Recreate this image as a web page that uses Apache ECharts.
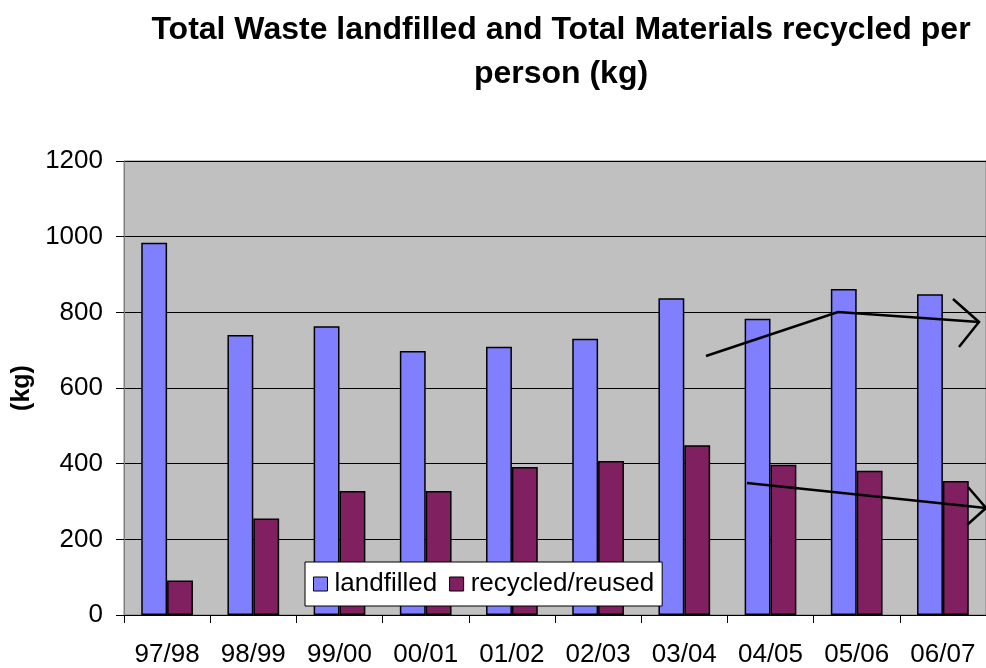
<!DOCTYPE html>
<html>
<head>
<meta charset="utf-8">
<script src="https://cdn.jsdelivr.net/npm/echarts@6/dist/echarts.min.js"></script>
<style>
html, body { margin: 0; padding: 0; background: #fff; }
#main { width: 986px; height: 668px; }
</style>
</head>
<body>
<div id="main"></div>
<script>
var years = ['97/98', '98/99', '99/00', '00/01', '01/02', '02/03', '03/04', '04/05', '05/06', '06/07'];
var landfilled = [984, 740, 763, 698, 709, 730, 837, 783, 862, 848];
var recycled = [91, 255, 328, 328, 391, 407, 449, 397, 381, 354];
var yTicks = [0, 200, 400, 600, 800, 1000, 1200];

var myChart = echarts.init(document.getElementById('main'));
var font = 'Liberation Sans, Arial, sans-serif';

option = {
    backgroundColor: '#ffffff',
    animation: false,
    title: {
        text: 'Total Waste landfilled and Total Materials recycled per\nperson (kg)',
        left: 556,
        top: 3,
        textAlign: 'center',
        textStyle: {
            fontFamily: font,
            fontSize: 32,
            fontWeight: 'bold',
            color: '#000',
            lineHeight: 44
        }
    },
    legend: {
        left: 305,
        top: 562,
        padding: [9, 8, 9, 8],
        backgroundColor: '#fff',
        borderColor: '#000',
        borderWidth: 1,
        itemWidth: 14,
        itemHeight: 14,
        itemGap: 12,
        icon: 'rect',
        textStyle: { fontFamily: font, fontSize: 26, color: '#000', padding: [0, 0, 0, 2] },
        data: [
            { name: 'landfilled', itemStyle: { borderColor: '#000', borderWidth: 1 } },
            { name: 'recycled/reused', itemStyle: { borderColor: '#000', borderWidth: 1 } }
        ]
    },
    grid: {
        left: 124,
        right: -8,
        top: 161,
        bottom: 52,
        show: true,
        backgroundColor: '#c0c0c0',
        borderColor: '#808080',
        borderWidth: 1
    },
    xAxis: {
        type: 'category',
        data: years,
        axisLine: { lineStyle: { color: '#000', width: 1 } },
        axisTick: { show: true, length: 8, lineStyle: { color: '#000' } },
        axisLabel: { fontFamily: font, fontSize: 26, color: '#000', margin: 27 }
    },
    yAxis: {
        type: 'value',
        min: yTicks[0],
        max: yTicks[yTicks.length - 1],
        interval: 200,
        name: '(kg)',
        nameLocation: 'middle',
        nameGap: 88,
        nameTextStyle: { fontFamily: font, fontSize: 25, fontWeight: 'bold', color: '#000' },
        axisLine: { show: true, lineStyle: { color: '#808080' } },
        axisTick: { show: true, length: 8, lineStyle: { color: '#000' } },
        axisLabel: {
            fontFamily: font, fontSize: 26, color: '#000', margin: 21,
            formatter: function (v) { return String(v); }
        },
        splitLine: { show: true, lineStyle: { color: '#000', width: 1 } }
    },
    series: [
        {
            name: 'landfilled',
            type: 'bar',
            data: landfilled,
            barGap: '0%',
            barCategoryGap: '40%',
            itemStyle: { color: '#8080ff', borderColor: '#000', borderWidth: 1.5 }
        },
        {
            name: 'recycled/reused',
            type: 'bar',
            data: recycled,
            barGap: '0%',
            barCategoryGap: '40%',
            itemStyle: { color: '#802060', borderColor: '#000', borderWidth: 1.5 }
        }
    ],
    graphic: [
        { type: 'polyline', z: 100, shape: { points: [[706, 356], [838, 312], [979, 322]] }, style: { stroke: '#000', lineWidth: 2.5, fill: null } },
        { type: 'polyline', z: 100, shape: { points: [[953, 299], [979, 322], [959, 347]] }, style: { stroke: '#000', lineWidth: 2.5, fill: null } },
        { type: 'polyline', z: 100, shape: { points: [[747, 483], [986, 508]] }, style: { stroke: '#000', lineWidth: 2.5, fill: null } },
        { type: 'polyline', z: 100, shape: { points: [[968, 487], [986, 508], [967, 525]] }, style: { stroke: '#000', lineWidth: 2.5, fill: null } }
    ]
};
myChart.setOption(option);
</script>
</body>
</html>
